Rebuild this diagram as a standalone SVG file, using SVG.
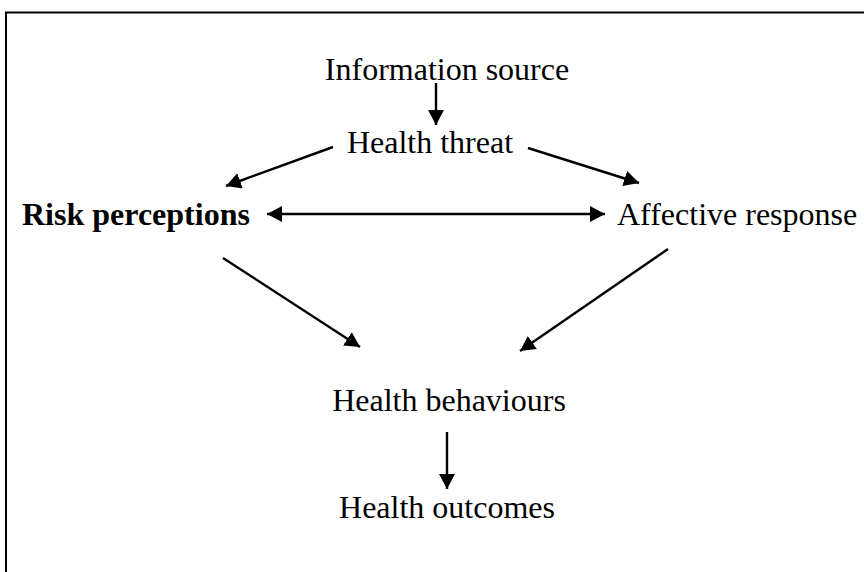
<svg xmlns="http://www.w3.org/2000/svg" width="864" height="572" viewBox="0 0 864 572">
  <style>
    .lbl { font-family: "Liberation Serif", "Times New Roman", serif; font-size: 32px; fill: #000; }
    .bold { font-weight: bold; }
    .edge { stroke: #000; stroke-width: 2.4; fill: none; }
  </style>
  <defs>
    <marker id="head" markerUnits="userSpaceOnUse" markerWidth="18" markerHeight="18" refX="15" refY="8" orient="auto-start-reverse">
      <path d="M0,0 L15,8 L0,16 Z" fill="#000"/>
    </marker>
  </defs>

  <rect x="0" y="0" width="864" height="572" fill="#fff"/>
  <!-- outer frame, open to the right and bottom edges -->
  <rect x="6" y="12.5" width="900" height="600" fill="none" stroke="#000" stroke-width="2"/>

  <g id="connectors">
    <line class="edge" x1="436" y1="83" x2="436" y2="125" marker-end="url(#head)"/>
    <line class="edge" x1="333" y1="147" x2="226" y2="186" marker-end="url(#head)"/>
    <line class="edge" x1="528" y1="148" x2="639" y2="183" marker-end="url(#head)"/>
    <line class="edge" x1="267" y1="214" x2="605" y2="214" marker-start="url(#head)" marker-end="url(#head)"/>
    <line class="edge" x1="223" y1="258" x2="360" y2="347" marker-end="url(#head)"/>
    <line class="edge" x1="668" y1="249" x2="520" y2="351" marker-end="url(#head)"/>
    <line class="edge" x1="447" y1="432" x2="447" y2="489" marker-end="url(#head)"/>
  </g>

  <g id="information-source"><text class="lbl" x="447" y="80" text-anchor="middle">Information source</text></g>
  <g id="health-threat"><text class="lbl" x="430" y="153" text-anchor="middle">Health threat</text></g>
  <g id="risk-perceptions"><text class="lbl bold" x="22" y="225">Risk perceptions</text></g>
  <g id="affective-response"><text class="lbl" x="617" y="225">Affective response</text></g>
  <g id="health-behaviours"><text class="lbl" x="449" y="411" text-anchor="middle">Health behaviours</text></g>
  <g id="health-outcomes"><text class="lbl" x="447" y="518" text-anchor="middle">Health outcomes</text></g>
</svg>
